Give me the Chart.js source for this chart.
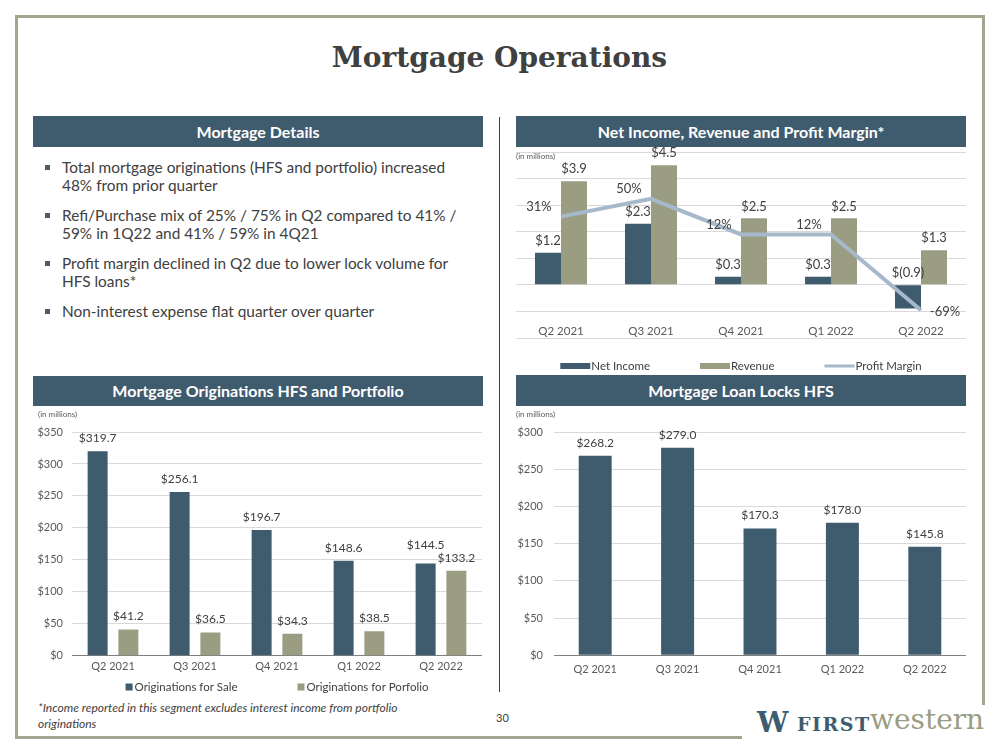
<!DOCTYPE html>
<html>
<head>
<meta charset="utf-8">
<script src="https://cdn.jsdelivr.net/npm/chart.js@4.4.0/dist/chart.umd.min.js"></script>
<style>
  body { margin: 0; width: 999px; height: 750px; background: #fff; position: relative; overflow: hidden;
         font-family: Lato, sans-serif; color: #404040; }
  .abs { position: absolute; }
  .line { position: absolute; background: #a3a58e; }
  .title { left: 0; width: 999px; top: 44px; text-align: center; font: bold 28px/28px "DejaVu Serif", serif; color: #404040; }
  .hdr { position: absolute; background: #3f5b6e; color: #fff; font: bold 16px Lato, sans-serif;
         text-align: center; height: 31px; line-height: 31px; width: 450px; }
  .bullets { left: 45px; top: 158px; }
  .bullets div { position: relative; padding-left: 17px; font-size: 15.4px; line-height: 18px; margin-bottom: 12px; white-space: nowrap; }
  .bullets div::before { content: ""; position: absolute; left: 0; top: 7px; width: 5px; height: 5px; background: #595959; }
  .unit { font-size: 8px; color: #595959; }
  .note { left: 38px; top: 700px; font-style: italic; font-size: 12px; line-height: 16px; }
  canvas { position: absolute; }
</style>
</head>
<body>
<div class="line" style="left:15px;top:15px;width:970px;height:3px"></div>
<div class="line" style="left:15px;top:15px;width:3px;height:724px"></div>
<div class="line" style="left:15px;top:736px;width:727px;height:3px"></div>
<div class="line" style="left:982px;top:15px;width:3px;height:690px"></div>

<div class="abs title">Mortgage Operations</div>

<div class="hdr" style="left:33px;top:116px">Mortgage Details</div>
<div class="hdr" style="left:516px;top:116px">Net Income, Revenue and Profit Margin*</div>
<div class="hdr" style="left:33px;top:376px;height:30px;line-height:30px">Mortgage Originations HFS and Portfolio</div>
<div class="hdr" style="left:516px;top:375px">Mortgage Loan Locks HFS</div>

<div class="abs" style="left:499px;top:117px;width:1px;height:575px;background:#404040"></div>

<div class="abs bullets">
  <div>Total mortgage originations (HFS and portfolio) increased<br>48% from prior quarter</div>
  <div>Refi/Purchase mix of 25% / 75% in Q2 compared to 41% /<br>59% in 1Q22 and 41% / 59% in 4Q21</div>
  <div>Profit margin declined in Q2 due to lower lock volume for<br>HFS loans*</div>
  <div>Non-interest expense flat quarter over quarter</div>
</div>

<canvas id="incomeChart" width="450" height="236" style="left:516px;top:140px"></canvas>
<canvas id="origChart" width="450" height="288" style="left:32px;top:410px"></canvas>
<canvas id="locksChart" width="452" height="280" style="left:514px;top:410px"></canvas>

<div class="abs unit" style="left:516px;top:151px">(in millions)</div>
<div class="abs unit" style="left:38px;top:409px">(in millions)</div>
<div class="abs unit" style="left:516px;top:409px">(in millions)</div>

<div class="abs note">*Income reported in this segment excludes interest income from portfolio<br>originations</div>
<div class="abs" style="left:496px;top:711px;font-size:11px">30</div>

<div class="abs" style="left:757px;top:708px;font:bold 28px/30px 'DejaVu Serif',serif;color:#3f5b6e">W</div>
<div class="abs" style="left:797px;top:712px;font:bold 19px/24px 'DejaVu Serif',serif;color:#3f5b6e;letter-spacing:1.5px">FIRST</div>
<div class="abs" style="left:870px;top:703px;font:28px/34px 'DejaVu Serif',serif;color:#9b9d83">western</div>

<script>
const quarters = ['Q2 2021', 'Q3 2021', 'Q4 2021', 'Q1 2022', 'Q2 2022'];

// Net Income, Revenue and Profit Margin (in millions / %)
const netIncome = [1.2, 2.3, 0.3, 0.3, -0.9];
const revenue = [3.9, 4.5, 2.5, 2.5, 1.3];
const profitMargin = [31, 50, 12, 12, -69];

// Originations HFS and Portfolio
const origForSale = [319.7, 256.1, 196.7, 148.6, 144.5];
const origForPortfolio = [41.2, 36.5, 34.3, 38.5, 133.2];
const origTicks = [0, 50, 100, 150, 200, 250, 300, 350];

// Loan Locks HFS
const loanLocks = [268.2, 279.0, 170.3, 178.0, 145.8];
const lockTicks = [0, 50, 100, 150, 200, 250, 300];

const slate = '#3f5b6e';
const olive = '#9b9d83';
const steel = '#a5b9ca';
const gridColor = '#d9d9d9';
const tickColor = '#595959';

const money = v => v < 0 ? '$(' + Math.abs(v).toFixed(1) + ')' : '$' + v.toFixed(1);

// value labels above bars, and beside the points of a line
function valueLabels(size, gap) {
  return {
    id: 'valueLabels',
    afterDatasetsDraw(chart) {
      const ctx = chart.ctx;
      ctx.save();
      ctx.font = size + 'px Lato';
      ctx.fillStyle = '#404040';
      ctx.textAlign = 'center';
      ctx.textBaseline = 'middle';
      const placed = [];
      chart.data.datasets.forEach((ds, di) => {
        const meta = chart.getDatasetMeta(di);
        meta.data.forEach((el, i) => {
          const v = ds.data[i];
          if (meta.type === 'bar') {
            const lab = { text: money(v), x: el.x, y: Math.min(el.y, el.base) - gap, i };
            lab.w = ctx.measureText(lab.text).width;
            placed.forEach(b => {
              if (b.i === i && Math.abs(b.x - lab.x) < (b.w + lab.w) / 2 && Math.abs(b.y - lab.y) < size + 1) {
                if (b.y <= lab.y) b.y = lab.y - size - 1; else lab.y = b.y - size - 1;
              }
            });
            placed.push(lab);
          } else {
            const last = i === ds.data.length - 1;
            placed.push({ text: v + '%', x: el.x + (last ? 24 : -22), y: el.y + (last ? 2 : -10), i: -1, w: 0 });
          }
        });
      });
      placed.forEach(p => ctx.fillText(p.text, p.x, p.y));
      ctx.restore();
    }
  };
}

// legend spread out like the slide, drawn near the bottom of the canvas
function spreadLegend(o) {
  return {
    id: 'spreadLegend',
    afterDraw(chart) {
      const ctx = chart.ctx;
      ctx.save();
      ctx.font = o.size + 'px Lato';
      ctx.textBaseline = 'middle';
      ctx.textAlign = 'left';
      const items = chart.data.datasets.map(ds => ({
        text: ds.label,
        isLine: ds.type === 'line',
        color: ds.type === 'line' ? ds.borderColor : ds.backgroundColor,
        w: o.boxW + o.textGap + ctx.measureText(ds.label).width
      }));
      const total = items.reduce((s, it) => s + it.w, 0) + o.gap * (items.length - 1);
      let x = (chart.chartArea.left + chart.chartArea.right) / 2 - total / 2;
      const y = chart.height - o.bottom;
      items.forEach(it => {
        ctx.fillStyle = it.color;
        if (it.isLine) ctx.fillRect(x, y - 1.5, o.boxW, 3);
        else ctx.fillRect(x, y - o.boxH / 2, o.boxW, o.boxH);
        ctx.fillStyle = '#404040';
        ctx.fillText(it.text, x + o.boxW + o.textGap, y);
        x += it.w + o.gap;
      });
      ctx.restore();
    }
  };
}

// faint rule under the category labels
const axisFloor = {
  id: 'axisFloor',
  afterDraw(chart) {
    const ctx = chart.ctx, s = chart.scales.x;
    const y = Math.round(s.bottom - s.options.ticks.padding) + 0.5;
    ctx.save();
    ctx.strokeStyle = gridColor;
    ctx.lineWidth = 1;
    ctx.beginPath();
    ctx.moveTo(chart.chartArea.left, y);
    ctx.lineTo(chart.chartArea.right, y);
    ctx.stroke();
    ctx.restore();
  }
};

const noChrome = { legend: { display: false }, tooltip: { enabled: false } };

new Chart(document.getElementById('incomeChart'), {
  data: {
    labels: quarters,
    datasets: [
      { type: 'bar', label: 'Net Income', data: netIncome, backgroundColor: slate,
        barPercentage: 1, categoryPercentage: 0.578, order: 1 },
      { type: 'bar', label: 'Revenue', data: revenue, backgroundColor: olive,
        barPercentage: 1, categoryPercentage: 0.578, order: 1 },
      { type: 'line', label: 'Profit Margin', data: profitMargin, yAxisID: 'y1', borderColor: steel,
        borderWidth: 4, pointRadius: 0, tension: 0, fill: false, order: 0 }
    ]
  },
  options: {
    responsive: false,
    animation: false,
    layout: { padding: { top: 12, bottom: 25, left: 0, right: 0 } },
    plugins: noChrome,
    scales: {
      x: { grid: { display: false, drawTicks: false }, border: { display: false },
           ticks: { padding: 13, color: tickColor, font: { family: 'Lato', size: 11.5 } } },
      y: { min: -1, max: 5, ticks: { display: false, stepSize: 1 },
           grid: { color: gridColor, drawTicks: false }, border: { display: false } },
      y1: { display: false, min: -70, max: 100 }
    }
  },
  plugins: [valueLabels(13, 12), spreadLegend({ size: 11.5, boxW: 30, boxH: 6, textGap: 1, gap: 50, bottom: 10 }), axisFloor]
});

new Chart(document.getElementById('origChart'), {
  type: 'bar',
  data: {
    labels: quarters,
    datasets: [
      { label: 'Originations for Sale', data: origForSale, backgroundColor: slate,
        barPercentage: 0.65, categoryPercentage: 0.75 },
      { label: 'Originations for Porfolio', data: origForPortfolio, backgroundColor: olive,
        barPercentage: 0.65, categoryPercentage: 0.75 }
    ]
  },
  options: {
    responsive: false,
    animation: false,
    layout: { padding: { top: 22, bottom: 20, left: 0, right: 0 } },
    plugins: noChrome,
    scales: {
      x: { grid: { display: false, drawTicks: false }, border: { color: '#7f7f7f' },
           ticks: { padding: 4.5, color: tickColor, font: { family: 'Lato', size: 11 } } },
      y: { min: origTicks[0], max: origTicks[origTicks.length - 1],
           ticks: { stepSize: origTicks[1] - origTicks[0], padding: 9, color: tickColor,
                    font: { family: 'Lato', size: 11 }, callback: v => '$' + v },
           grid: { color: gridColor, drawTicks: false }, border: { display: false },
           afterFit: s => { s.width = 40; } }
    }
  },
  plugins: [valueLabels(12, 13), spreadLegend({ size: 11.5, boxW: 7, boxH: 7, textGap: 2, gap: 60, bottom: 11 })]
});

new Chart(document.getElementById('locksChart'), {
  type: 'bar',
  data: {
    labels: quarters,
    datasets: [
      { label: 'Loan Locks HFS', data: loanLocks, backgroundColor: slate,
        barPercentage: 1, categoryPercentage: 0.4 }
    ]
  },
  options: {
    responsive: false,
    animation: false,
    layout: { padding: { top: 22, bottom: 5.5, left: 0, right: 0 } },
    plugins: noChrome,
    scales: {
      x: { grid: { display: false, drawTicks: false }, border: { color: '#7f7f7f' },
           ticks: { padding: 8, color: tickColor, font: { family: 'Lato', size: 11 } } },
      y: { min: lockTicks[0], max: lockTicks[lockTicks.length - 1],
           ticks: { stepSize: lockTicks[1] - lockTicks[0], padding: 11, color: tickColor,
                    font: { family: 'Lato', size: 11 }, callback: v => '$' + v },
           grid: { color: gridColor, drawTicks: false }, border: { display: false },
           afterFit: s => { s.width = 40; } }
    }
  },
  plugins: [valueLabels(12, 13)]
});
</script>
</body>
</html>
